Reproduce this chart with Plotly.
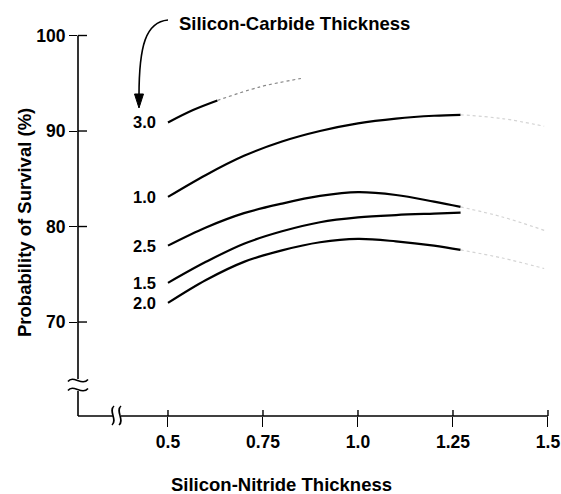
import plotly.graph_objects as go

# survival probability vs silicon-nitride thickness, one curve per silicon-carbide thickness
NITRIDE = [0.5, 0.6, 0.7, 0.8, 0.9, 1.0, 1.1, 1.2, 1.27]
NITRIDE_FADED = [1.27, 1.38, 1.49]

SURV_10 = [83.1, 85.4, 87.4, 88.9, 90.0, 90.8, 91.3, 91.6, 91.7]
SURV_25 = [78.0, 79.9, 81.4, 82.4, 83.2, 83.6, 83.3, 82.6, 82.05]
SURV_15 = [74.1, 76.3, 78.2, 79.5, 80.45, 80.95, 81.2, 81.35, 81.45]
SURV_20 = [72.0, 74.4, 76.3, 77.5, 78.35, 78.7, 78.45, 78.0, 77.55]

SURV_10_FADED = [91.7, 91.3, 90.5]
SURV_25_FADED = [82.05, 81.0, 79.6]
SURV_20_FADED = [77.55, 76.7, 75.6]

NITRIDE_30 = [0.5, 0.566, 0.63]
SURV_30 = [90.9, 92.2, 93.2]
NITRIDE_30_FADED = [0.63, 0.74, 0.85]
SURV_30_FADED = [93.2, 94.6, 95.5]

X_TICKS = [0.5, 0.75, 1.0, 1.25, 1.5]
X_TICK_TEXT = ["0.5", "0.75", "1.0", "1.25", "1.5"]
Y_TICKS = [70, 80, 90, 100]

X_RANGE = [0.2632, 1.5132]
Y_RANGE = [60.16, 102.88]

W, H = 561, 494
L, R, T, B = 78, 8, 8, 78
PW, PH = W - L - R, H - T - B

FONT = "Liberation Sans, Arial, sans-serif"


def px(x):
    return (x - L) / PW


def py(y):
    return (H - B - y) / PH


def xv(v):
    return (v - X_RANGE[0]) / (X_RANGE[1] - X_RANGE[0])


def yv(v):
    return (v - Y_RANGE[0]) / (Y_RANGE[1] - Y_RANGE[0])


def path(cmds):
    out = []
    for c in cmds:
        if isinstance(c, str):
            out.append(c)
        else:
            out.append(f"{px(c[0]):.5f},{py(c[1]):.5f}")
    return " ".join(out)


def line(x0, y0, x1, y1, width=1.6):
    return dict(type="line", xref="paper", yref="paper", x0=x0, y0=y0, x1=x1, y1=y1,
                line=dict(color="black", width=width))


fig = go.Figure()

solid = [
    ("3.0", NITRIDE_30, SURV_30),
    ("1.0", NITRIDE, SURV_10),
    ("2.5", NITRIDE, SURV_25),
    ("1.5", NITRIDE, SURV_15),
    ("2.0", NITRIDE, SURV_20),
]
for name, xs, ys in solid:
    fig.add_trace(go.Scatter(x=xs, y=ys, mode="lines", name=name, line_shape="spline",
                             line=dict(color="black", width=2.2), hoverinfo="skip"))

faded = [
    (NITRIDE_30_FADED, SURV_30_FADED, "#8a8a8a"),
    (NITRIDE_FADED, SURV_10_FADED, "#d4d4d4"),
    (NITRIDE_FADED, SURV_25_FADED, "#d4d4d4"),
    (NITRIDE_FADED, SURV_20_FADED, "#d4d4d4"),
]
for xs, ys, col in faded:
    fig.add_trace(go.Scatter(x=xs, y=ys, mode="lines", line_shape="spline",
                             line=dict(color=col, width=1.2, dash="dot"), hoverinfo="skip"))

# curve labels
for name, xs, ys in solid:
    fig.add_annotation(x=xs[0], y=ys[0], text=name, showarrow=False, xanchor="right",
                       yanchor="middle", xshift=-10, font=dict(size=16.5, weight="bold"))

shapes = []
# y axis with break
shapes.append(line(0, yv(100), 0, py(379)))
shapes.append(line(0, py(391), 0, 0))
# x axis with break
shapes.append(line(0, 0, px(113), 0))
shapes.append(line(px(121), 0, xv(1.5), 0))
# inner halves of crossing ticks
for v in Y_TICKS:
    shapes.append(line(0, yv(v), px(87), yv(v), 1.4))
for v in X_TICKS:
    shapes.append(line(xv(v), 0, xv(v), py(410), 1.4))
# break marks
for cy in (380.5, 389.5):
    shapes.append(dict(type="path", xref="paper", yref="paper",
                       path=path(["M", (68, cy + 1), "C", (73, cy - 6), (82, cy + 6), (88, cy - 1)]),
                       line=dict(color="black", width=1.6)))
for cx in (113, 120):
    shapes.append(dict(type="path", xref="paper", yref="paper",
                       path=path(["M", (cx + 1, 406), "C", (cx - 5, 411), (cx + 5, 420), (cx - 1, 425)]),
                       line=dict(color="black", width=1.6)))
# curved arrow from the legend title
shapes.append(dict(type="path", xref="paper", yref="paper",
                   path=path(["M", (168, 20), "C", (146, 22), (139, 45), (139, 96)]),
                   line=dict(color="black", width=1.6)))
shapes.append(dict(type="path", xref="paper", yref="paper",
                   path=path(["M", (134.5, 94), "L", (143.5, 94), "L", (139, 108), "Z"]),
                   fillcolor="black", line=dict(color="black", width=1)))

fig.add_annotation(xref="paper", yref="paper", x=px(177), y=py(24), text="Silicon-Carbide Thickness",
                   showarrow=False, xanchor="left", yanchor="middle", font=dict(size=18.5, weight="bold"))
fig.add_annotation(xref="paper", yref="paper", x=px(281), y=py(484), text="Silicon-Nitride Thickness",
                   showarrow=False, xanchor="center", yanchor="middle", font=dict(size=18.5, weight="bold"))
fig.add_annotation(xref="paper", yref="paper", x=px(24), y=py(223), text="Probability of Survival (%)",
                   showarrow=False, textangle=-90, xanchor="center", yanchor="middle",
                   font=dict(size=18.5, weight="bold"))

fig.update_layout(
    width=W, height=H,
    margin=dict(l=L, r=R, t=T, b=B),
    paper_bgcolor="white", plot_bgcolor="white",
    showlegend=False,
    font=dict(family=FONT, color="black"),
    shapes=shapes,
    xaxis=dict(range=X_RANGE, tickvals=X_TICKS, ticktext=X_TICK_TEXT, showgrid=False, zeroline=False,
               showline=False, ticks="outside", ticklen=10, tickwidth=1.4, tickcolor="black",
               tickfont=dict(size=17.5, weight="bold"), automargin=False),
    yaxis=dict(range=Y_RANGE, tickvals=Y_TICKS, showgrid=False, zeroline=False, showline=False,
               ticks="outside", ticklen=8, tickwidth=1.4, tickcolor="black",
               tickfont=dict(size=17.5, weight="bold"), automargin=False),
)

# drop the default page margin so the 561x494 figure fills the window exactly
fig.write_html("out.html", config={"displayModeBar": False},
               post_script="document.body.style.margin='0px';")
